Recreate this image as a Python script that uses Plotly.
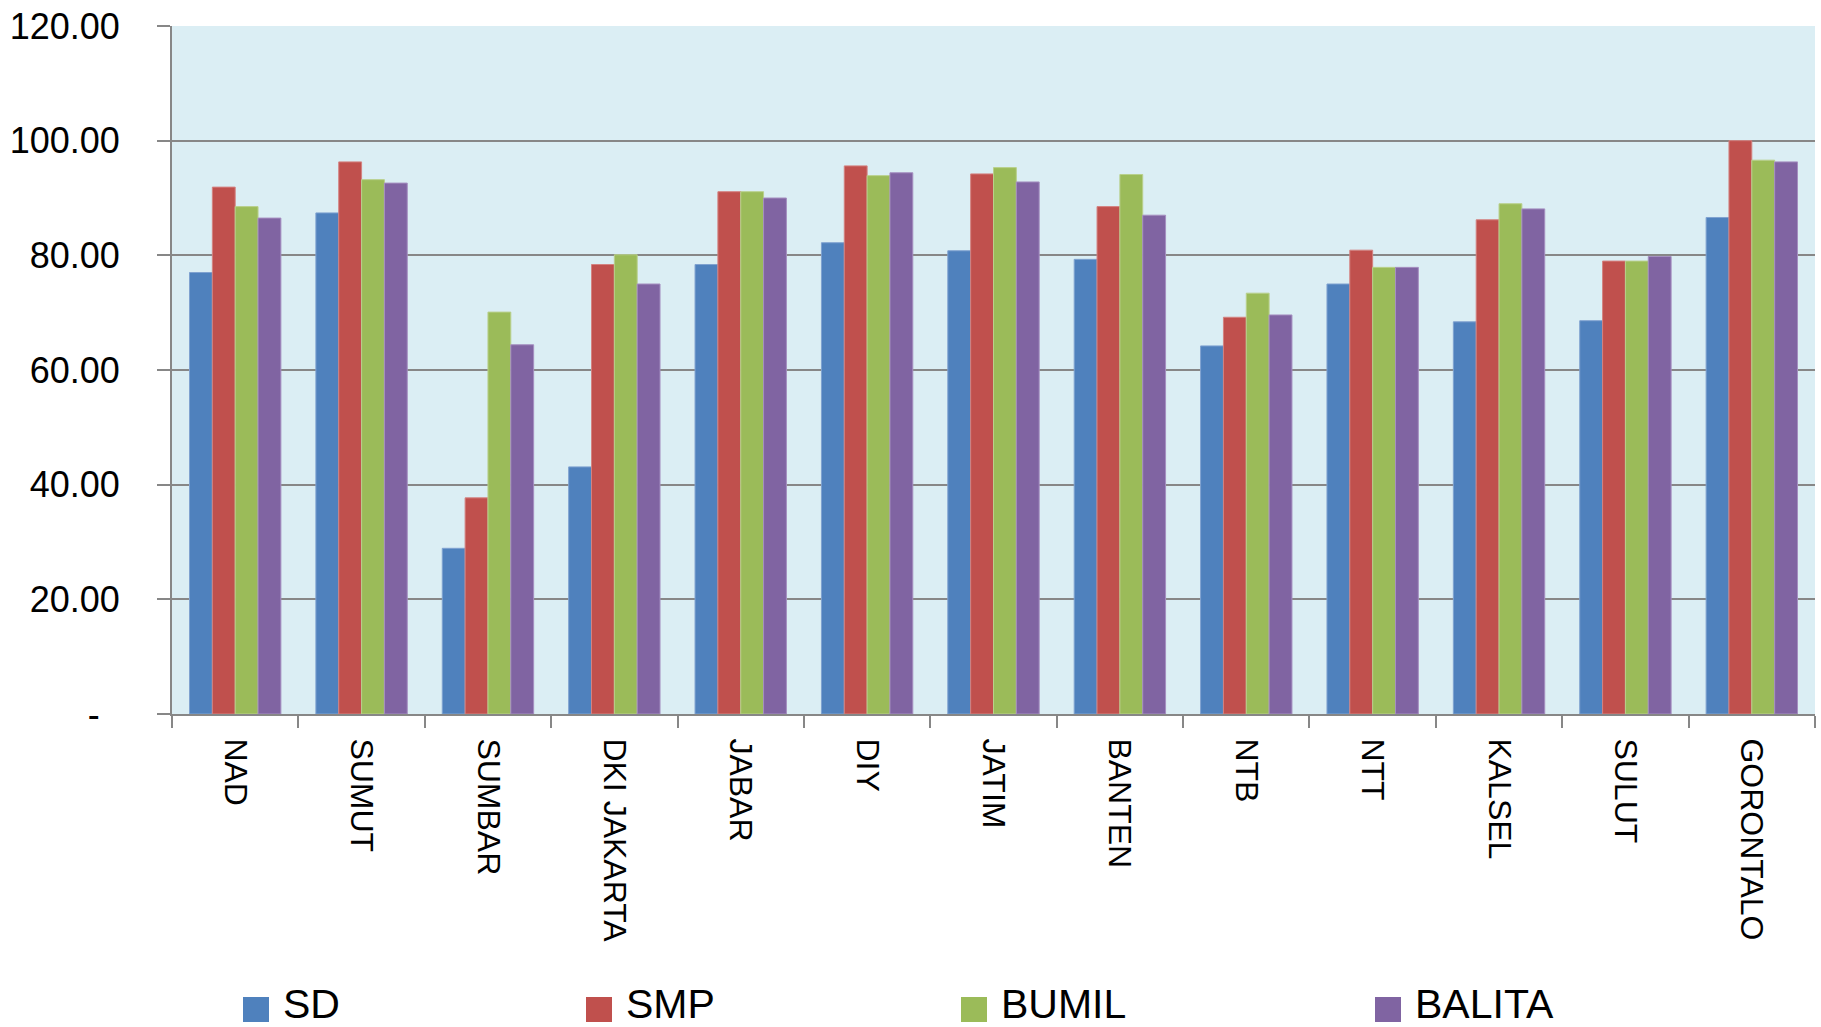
import plotly.graph_objects as go

# Coverage (%) per province for each target group
provinces = ["NAD", "SUMUT", "SUMBAR", "DKI JAKARTA", "JABAR", "DIY", "JATIM",
             "BANTEN", "NTB", "NTT", "KALSEL", "SULUT", "GORONTALO"]
sd = [77.0, 87.4, 28.9, 43.1, 78.4, 82.2, 80.8, 79.3, 64.2, 75.0, 68.4, 68.6, 86.6]
smp = [91.9, 96.3, 37.7, 78.4, 91.1, 95.6, 94.2, 88.5, 69.2, 80.9, 86.2, 79.0, 100.0]
bumil = [88.5, 93.2, 70.1, 80.1, 91.1, 93.9, 95.3, 94.1, 73.4, 77.9, 89.0, 79.0, 96.6]
balita = [86.5, 92.6, 64.4, 75.0, 90.0, 94.4, 92.8, 87.0, 69.6, 77.9, 88.1, 79.8, 96.3]

series_names = ["SD", "SMP", "BUMIL", "BALITA"]
series_values = [sd, smp, bumil, balita]
series_colors = ["#4F81BD", "#C0504D", "#9BBB59", "#8064A2"]
series_edges = ["#7FA2D0", "#D48280", "#B9D08C", "#A58FC0"]

y_tick_values = [0, 20, 40, 60, 80, 100, 120]
y_tick_labels = ["-\u00a0\u00a0", "20.00", "40.00", "60.00", "80.00", "100.00", "120.00"]

W, H = 1821, 1027
ML, MR, MT, MB = 172, 6, 26, 313
PW, PH = W - ML - MR, H - MT - MB

FONT = "Liberation Sans, Arial, sans-serif"
GRID = "#878787"

fig = go.Figure()
for name, vals, col, edge in zip(series_names, series_values, series_colors, series_edges):
    fig.add_trace(go.Bar(
        name=name, x=provinces, y=vals,
        marker=dict(color=col, line=dict(color=edge, width=1)),
        showlegend=False,
    ))


def px_x(px):
    return (px - ML) / PW


def px_y(py):
    return (H - MB - py) / PH


# Legend keys along the bottom
legend_left = [243, 586, 961, 1375]
shapes = []
annotations = []
for name, col, left in zip(series_names, series_colors, legend_left):
    shapes.append(dict(
        type="rect", xref="paper", yref="paper",
        x0=px_x(left), x1=px_x(left + 26), y0=px_y(1022), y1=px_y(997),
        fillcolor=col, line=dict(width=0),
    ))
    annotations.append(dict(
        xref="paper", yref="paper", x=px_x(left + 38), y=px_y(1004),
        xanchor="left", yanchor="middle", showarrow=False,
        text=name, font=dict(family=FONT, size=41, color="black"),
    ))

fig.update_layout(
    width=W, height=H,
    margin=dict(l=ML, r=MR, t=MT, b=MB),
    paper_bgcolor="white",
    plot_bgcolor="#DBEEF4",
    barmode="group",
    bargap=0.277,
    bargroupgap=0,
    shapes=shapes,
    annotations=annotations,
    font=dict(family=FONT, color="black"),
)

fig.update_xaxes(
    type="category",
    tickangle=90,
    tickfont=dict(family=FONT, size=32, color="black"),
    ticks="outside", tickson="boundaries", ticklen=12, tickwidth=2, tickcolor=GRID,
    showline=True, linecolor=GRID, linewidth=2,
    showgrid=False,
    ticklabelstandoff=16,
)

fig.update_yaxes(
    range=[0, 120],
    tickvals=y_tick_values, ticktext=y_tick_labels,
    tickfont=dict(family=FONT, size=36, color="black"),
    ticks="outside", ticklen=13, tickwidth=2, tickcolor=GRID,
    showline=True, linecolor=GRID, linewidth=2,
    showgrid=True, gridcolor=GRID, gridwidth=2,
    zeroline=False,
    ticklabelstandoff=30,
)

fig.write_html("out.html")
